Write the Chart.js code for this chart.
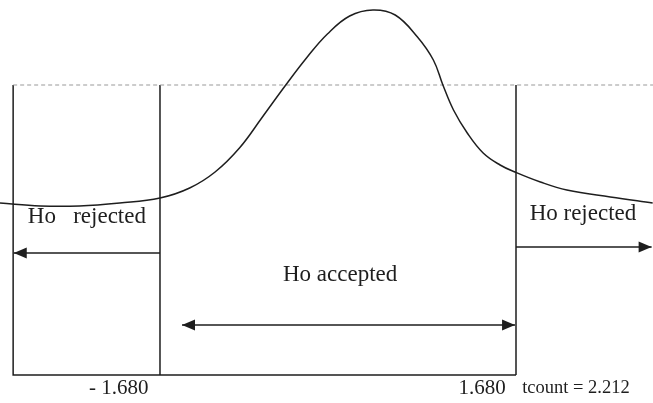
<!DOCTYPE html>
<html>
<head>
<meta charset="utf-8">
<script src="https://cdn.jsdelivr.net/npm/chart.js@4/dist/chart.umd.min.js"></script>
<style>
  html, body { margin: 0; padding: 0; background: #fff; }
  #wrap { width: 653px; height: 403px; }
</style>
</head>
<body>
<div id="wrap"><canvas id="chart" width="653" height="403"></canvas></div>
<script>
// t distribution sketch, x in t units, y in curve height units
var curveT = [-3.19, -2.81, -2.44, -2.06, -1.68, -1.40, -1.16, -0.93, -0.72, -0.50, -0.29, -0.10, 0.11, 0.33, 0.54, 0.75, 0.90, 0.99, 1.09, 1.22, 1.37, 1.53, 1.67, 1.91, 2.16, 2.57, 2.97];
var curveH = [172, 169, 169, 172, 177, 187, 203, 227, 257, 289, 318, 341, 359, 365, 360, 338, 315, 290, 265, 242, 222, 210, 203, 193, 185, 178, 172];

var tCritical = [-1.680, 1.680];
var tCount = 2.212;
var tickLabels = ["- 1.680", "1.680", "tcount = 2.212"];
var tickPos = [-2.07, 1.36, 2.246];

var xMin = -3.19, xMax = 2.973;
var frameLeft = -3.066;
var topLevel = 290;

// arrows: from, to, height
var arrowFrom = [-1.68, 1.68, -1.472, 1.671];
var arrowTo = [-3.06, 2.96, 1.671, -1.472];
var arrowH = [122, 128, 50, 50];

var regionText = ["Ho   rejected", "Ho rejected", "Ho accepted"];
var regionT = [-2.37, 2.312, 0.02];
var regionH = [158, 161, 100];

function pts(xs, ys) {
    return xs.map(function (x, i) { return {x: x, y: ys[i]}; });
}

var ink = "#1e1e1e";

var datasets = [];
datasets.push({
    data: pts(curveT, curveH),
    borderColor: ink, borderWidth: 1.5,
    tension: 0.4
});
datasets.push({
    data: [{x: frameLeft, y: topLevel}, {x: xMax, y: topLevel}],
    borderColor: "#9a9a9a", borderWidth: 1.2, borderDash: [4, 3]
});
datasets.push({
    data: [{x: frameLeft, y: topLevel}, {x: frameLeft, y: 0}, {x: tCritical[1], y: 0}],
    borderColor: ink, borderWidth: 1.5
});
tCritical.forEach(function (t) {
    datasets.push({
        data: [{x: t, y: topLevel}, {x: t, y: 0}],
        borderColor: ink, borderWidth: 1.5
    });
});
for (var i = 0; i < 3; i++) {
    datasets.push({
        data: [{x: arrowFrom[i], y: arrowH[i]}, {x: arrowTo[i], y: arrowH[i]}],
        borderColor: ink, borderWidth: 1.7
    });
}

// Arrow heads and text
var extras = {
    id: "extras",
    afterDatasetsDraw: function (chart) {
        var ctx = chart.ctx, xs = chart.scales.x, ys = chart.scales.y;
        ctx.save();
        ctx.fillStyle = ink;
        for (var i = 0; i < arrowTo.length; i++) {
            var tip = xs.getPixelForValue(arrowTo[i]);
            var y = ys.getPixelForValue(arrowH[i]);
            var dir = arrowTo[i] > arrowFrom[i] ? 1 : -1;
            ctx.beginPath();
            ctx.moveTo(tip, y);
            ctx.lineTo(tip - dir * 13, y - 5.5);
            ctx.lineTo(tip - dir * 13, y + 5.5);
            ctx.closePath();
            ctx.fill();
        }
        ctx.textAlign = "center";
        ctx.textBaseline = "middle";
        ctx.font = "23px 'Liberation Serif', serif";
        regionText.forEach(function (s, k) {
            ctx.fillText(s, xs.getPixelForValue(regionT[k]), ys.getPixelForValue(regionH[k]));
        });
        var sizes = [21, 21, 18.5];
        tickLabels.forEach(function (s, k) {
            ctx.font = sizes[k] + "px 'Liberation Serif', serif";
            ctx.fillText(s, xs.getPixelForValue(tickPos[k]), ys.getPixelForValue(-13));
        });
        ctx.restore();
    }
};

new Chart(document.getElementById("chart"), {
    type: "scatter",
    data: { datasets: datasets.map(function (d) {
        d.showLine = true;
        d.pointRadius = 0;
        d.fill = false;
        d.clip = false;
        return d;
    }) },
    options: {
        responsive: false,
        animation: false,
        layout: { padding: 0 },
        plugins: { legend: { display: false }, tooltip: { enabled: false } },
        scales: {
            x: { type: "linear", min: xMin, max: xMax, display: false },
            y: { type: "linear", min: -28, max: 375, display: false }
        }
    },
    plugins: [extras]
});
</script>
</body>
</html>
